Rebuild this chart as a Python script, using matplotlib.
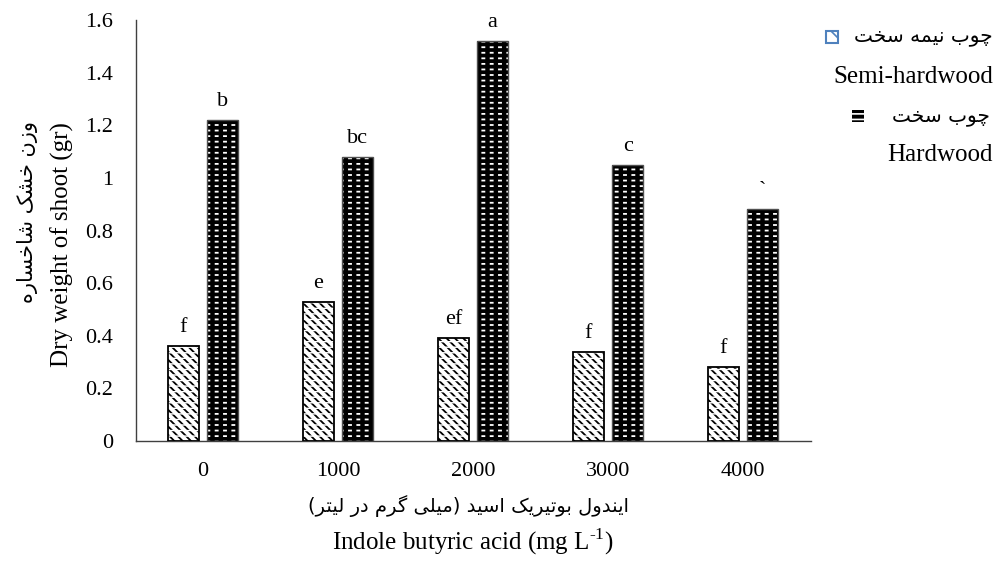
import matplotlib
matplotlib.use("Agg")
import matplotlib.pyplot as plt
from matplotlib.patches import Rectangle
import numpy as np

# ---------------- data ----------------
categories = ["0", "1000", "2000", "3000", "4000"]
semi_hardwood = [0.36, 0.53, 0.39, 0.34, 0.28]
hardwood = [1.22, 1.08, 1.52, 1.05, 0.88]
semi_letters = ["f", "e", "ef", "f", "f"]
hard_letters = ["b", "bc", "a", "c", "`"]
y_ticks = [0, 0.2, 0.4, 0.6, 0.8, 1, 1.2, 1.4, 1.6]
y_tick_labels = ["0", "0.2", "0.4", "0.6", "0.8", "1", "1.2", "1.4", "1.6"]

fa_semi = "چوب نیمه سخت"
fa_hard = "چوب سخت"
en_semi = "Semi-hardwood"
en_hard = "Hardwood"
fa_ylabel = "وزن خشک شاخساره"
en_ylabel = "Dry weight of shoot (gr)"
fa_xlabel = "ایندول بوتیریک اسید (میلی گرم در لیتر)"
en_xlabel = "Indole butyric acid (mg L$^{\\mathregular{\u2010}\\mathregular{1}}$)"

# ------------- simple Persian shaping (presentation forms) -------------
FORMS = {
    "\u0627": ("\uFE8D", "\uFE8E", None, None),
    "\u0628": ("\uFE8F", "\uFE90", "\uFE91", "\uFE92"),
    "\u062A": ("\uFE95", "\uFE96", "\uFE97", "\uFE98"),
    "\u062E": ("\uFEA5", "\uFEA6", "\uFEA7", "\uFEA8"),
    "\u062F": ("\uFEA9", "\uFEAA", None, None),
    "\u0631": ("\uFEAD", "\uFEAE", None, None),
    "\u0632": ("\uFEAF", "\uFEB0", None, None),
    "\u0633": ("\uFEB1", "\uFEB2", "\uFEB3", "\uFEB4"),
    "\u0634": ("\uFEB5", "\uFEB6", "\uFEB7", "\uFEB8"),
    "\u0644": ("\uFEDD", "\uFEDE", "\uFEDF", "\uFEE0"),
    "\u0645": ("\uFEE1", "\uFEE2", "\uFEE3", "\uFEE4"),
    "\u0646": ("\uFEE5", "\uFEE6", "\uFEE7", "\uFEE8"),
    "\u0647": ("\uFEE9", "\uFEEA", "\uFEEB", "\uFEEC"),
    "\u0648": ("\uFEED", "\uFEEE", None, None),
    "\u0686": ("\uFB7A", "\uFB7B", "\uFB7C", "\uFB7D"),
    "\u06A9": ("\uFB8E", "\uFB8F", "\uFB90", "\uFB91"),
    "\u06AF": ("\uFB92", "\uFB93", "\uFB94", "\uFB95"),
    "\u06CC": ("\uFBFC", "\uFBFD", "\uFBFE", "\uFBFF"),
}
MIRROR = {"(": ")", ")": "("}


def shape_fa(text):
    out = []
    n = len(text)
    for i, ch in enumerate(text):
        if ch not in FORMS:
            out.append(ch)
            continue
        iso, fin, ini, med = FORMS[ch]
        prev = text[i - 1] if i > 0 else ""
        nxt = text[i + 1] if i + 1 < n else ""
        join_prev = prev in FORMS and FORMS[prev][2] is not None
        join_next = ini is not None and nxt in FORMS
        if join_prev and join_next:
            out.append(med)
        elif join_prev:
            out.append(fin)
        elif join_next:
            out.append(ini)
        else:
            out.append(iso)
    return "".join(MIRROR.get(c, c) for c in reversed(out))


def set_hlw(container, lw):
    for p in container:
        if hasattr(p, "set_hatch_linewidth"):
            p.set_hatch_linewidth(lw)


SERIF = ["Liberation Serif", "DejaVu Serif"]
FA_FONT = ["DejaVu Sans"]

plt.rcParams["font.family"] = SERIF
plt.rcParams["mathtext.fontset"] = "custom"
plt.rcParams["mathtext.rm"] = "Liberation Serif"

W, H = 1000, 561
fig = plt.figure(figsize=(W / 100, H / 100), dpi=100)
ax = fig.add_axes([135.5 / W, 1 - 441 / H, (810.5 - 135.5) / W, (441 - 20) / H])

x = np.arange(len(categories))
bw = 0.23
off = 0.145

# semi-hardwood bars: white with dashed diagonal pattern
plt.rcParams["hatch.linewidth"] = 1.3
b1 = ax.bar(x - off, semi_hardwood, bw, facecolor="white", edgecolor="black",
            linewidth=0, hatch="\\\\\\\\", zorder=3)
set_hlw(b1, 1.3)
plt.rcParams["hatch.linewidth"] = 1.0
b2 = ax.bar(x - off, semi_hardwood, bw, fill=False, edgecolor="white",
            linewidth=0, hatch="---", zorder=3.1)
set_hlw(b2, 1.0)
ax.bar(x - off, semi_hardwood, bw, fill=False, edgecolor="black",
       linewidth=1.3, zorder=4)

# hardwood bars: black with white dashes
plt.rcParams["hatch.linewidth"] = 1.3
b3 = ax.bar(x + off, hardwood, bw, facecolor="black", edgecolor="white",
            linewidth=0, hatch="---", zorder=3)
set_hlw(b3, 1.3)
plt.rcParams["hatch.linewidth"] = 3.2
b4 = ax.bar(x + off, hardwood, bw, fill=False, edgecolor="black",
            linewidth=0, hatch="||", zorder=3.1)
set_hlw(b4, 3.2)
ax.bar(x + off, hardwood, bw, fill=False, edgecolor="#505050",
       linewidth=1.0, zorder=4)

for xi, v, lab in zip(x - off, semi_hardwood, semi_letters):
    ax.annotate(lab, (xi, v), xytext=(0, 10), textcoords="offset points",
                ha="center", va="baseline", fontsize=16, family=SERIF)
for xi, v, lab in zip(x + off, hardwood, hard_letters):
    ax.annotate(lab, (xi, v), xytext=(0, 10), textcoords="offset points",
                ha="center", va="baseline", fontsize=16, family=SERIF)

ax.set_xlim(-0.5, len(categories) - 0.5)
ax.set_ylim(0, 1.6)
ax.set_xticks(x)
ax.set_xticklabels(categories, fontsize=16)
ax.set_yticks(y_ticks)
ax.set_yticklabels(y_tick_labels, fontsize=16)
ax.tick_params(axis="x", length=0, pad=15)
ax.tick_params(axis="y", length=0, pad=16)
for s in ["top", "right"]:
    ax.spines[s].set_visible(False)
for s in ["left", "bottom"]:
    ax.spines[s].set_color("#404040")
    ax.spines[s].set_linewidth(1.0)

# axis titles
fig.text(62 / W, 1 - 245 / H, en_ylabel, rotation=90, ha="center", va="center",
         fontsize=18, family=SERIF)
fig.text(28 / W, 1 - 212 / H, shape_fa(fa_ylabel), rotation=90, ha="center",
         va="center", fontsize=15, family=FA_FONT)
fig.text(468 / W, 1 - 506 / H, shape_fa(fa_xlabel), ha="center", va="center",
         fontsize=14, family=FA_FONT)
fig.text(473 / W, 1 - 542 / H, en_xlabel, ha="center", va="center",
         fontsize=18, family=SERIF)

# legend (manual)
icon = 12
plt.rcParams["hatch.linewidth"] = 1.2
fig.add_artist(Rectangle(((832 - icon / 2) / W, 1 - (37 + icon / 2) / H), icon / W, icon / H,
                         transform=fig.transFigure, facecolor="white", edgecolor="#4F81BD",
                         linewidth=1.5, hatch="\\\\"))
fig.add_artist(Rectangle(((858 - icon / 2) / W, 1 - (116 + icon / 2) / H), icon / W, icon / H,
                         transform=fig.transFigure, facecolor="black", edgecolor="white",
                         linewidth=0, hatch="---"))
fig.text(993 / W, 1 - 37 / H, shape_fa(fa_semi), ha="right", va="center",
         fontsize=14.5, family=FA_FONT)
fig.text(993 / W, 1 - 77 / H, en_semi, ha="right", va="center", fontsize=18, family=SERIF)
fig.text(990 / W, 1 - 116 / H, shape_fa(fa_hard), ha="right", va="center",
         fontsize=14.5, family=FA_FONT)
fig.text(993 / W, 1 - 155 / H, en_hard, ha="right", va="center", fontsize=18, family=SERIF)

fig.savefig("out.png", dpi=100)
